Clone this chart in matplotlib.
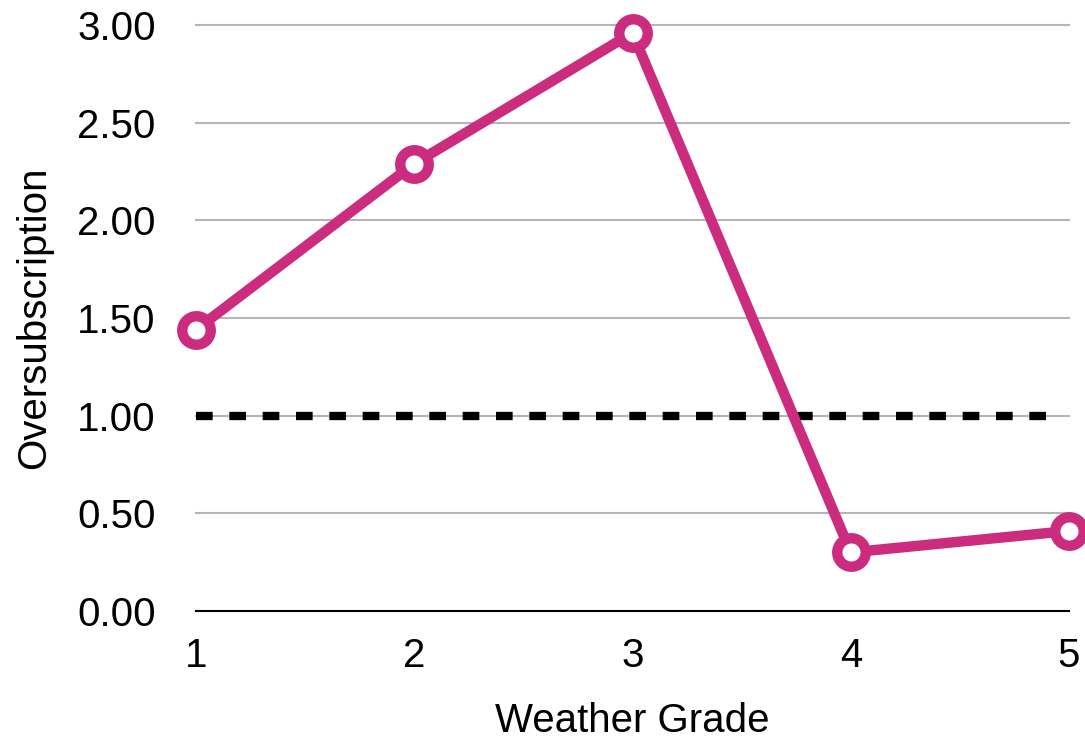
import matplotlib
matplotlib.use("Agg")
import matplotlib.pyplot as plt

grades = [1, 2, 3, 4, 5]
oversubscription = [1.44, 2.29, 2.96, 0.30, 0.41]
threshold = 1.00
y_ticks = [0.0, 0.5, 1.0, 1.5, 2.0, 2.5, 3.0]

pink = "#CB2C7E"
plt.rcParams["font.family"] = ["Liberation Sans", "DejaVu Sans"]

fig = plt.figure(figsize=(10.85, 7.39), dpi=100)
ax = fig.add_axes([0.1806, 0.1732, 0.8047, 0.7930])

ax.set_xlim(1, 5)
ax.set_ylim(0, 3)

# horizontal gridlines
for t in y_ticks[1:]:
    ax.axhline(t, color="#b5b5b5", lw=1.5, zorder=1, clip_on=False)

# break-even reference
ax.plot([grades[0], grades[-1] - 0.08], [threshold, threshold], color="black",
        lw=6, linestyle=(0, (2.0, 2.0)), dash_capstyle="butt", zorder=2)

ax.plot(grades, oversubscription, color=pink, lw=7.5, marker="o", ms=20.5,
        mew=7.5, mfc="white", mec=pink, zorder=3, clip_on=False,
        solid_joinstyle="miter")

for side in ["left", "right", "top"]:
    ax.spines[side].set_visible(False)
ax.spines["bottom"].set_color("black")
ax.spines["bottom"].set_linewidth(1.5)

ax.set_xticks(grades)
ax.set_xticklabels([str(g) for g in grades])
ax.set_yticks(y_ticks)
ax.set_yticklabels([f"{t:.2f}" for t in y_ticks])
ax.tick_params(axis="both", length=0, labelsize=29)
ax.tick_params(axis="y", pad=29)
ax.tick_params(axis="x", pad=19)

ax.set_xlabel("Weather Grade", fontsize=29, labelpad=19)
ax.set_ylabel("Oversubscription", fontsize=29, labelpad=17)

fig.savefig("out.png", dpi=100)
